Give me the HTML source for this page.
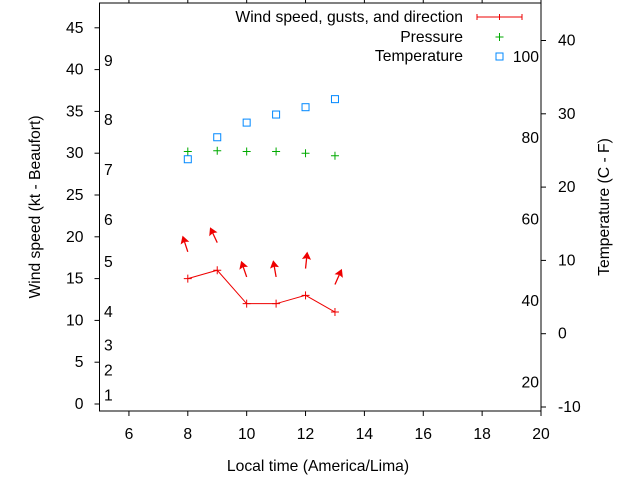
<!DOCTYPE html>
<html><head><meta charset="utf-8"><style>
body{margin:0;background:#fff}
text{font-family:"Liberation Sans",sans-serif;font-size:15.7px;fill:#000}
</style></head><body>
<svg id="c" width="640" height="480" xmlns="http://www.w3.org/2000/svg"></svg>
<script>
const hours=[8,9,10,11,12,13];
const wind=[15,16,12,12,13,11];
const gust=[18.2,19.3,15.2,15.2,16.2,14.3];
const dirDeg=[-18,-25,-19,-10,6,24];
const pressure=[30.2,30.3,30.2,30.2,30.0,29.7];
const temperature=[23.8,26.8,28.8,29.9,30.9,32.0];
const xTicks=[6,8,10,12,14,16,18,20];
const yTicks=[0,5,10,15,20,25,30,35,40,45];
const y2Ticks=[-10,0,10,20,30,40];
const beaufortLabels=["1","2","3","4","5","6","7","8","9"];
const beaufortKt=[1,4,7,11,17,22,28,34,41];
const fLabels=["20","40","60","80","100"];
const fValues=[20,40,60,80,100];

const L=99.5,R=541,T=3,B=411;
const X=v=>L+(v-5)*(R-L)/15;
const Y=v=>404-v*8.36;
const Y2=v=>333.7-v*7.33;
const svg=document.getElementById('c');
const NS='http://www.w3.org/2000/svg';
function mk(tag,attrs,parent,name,txt){const e=document.createElementNS(NS,tag);for(const k in attrs)e.setAttribute(k,attrs[k]);


if(txt!==undefined)e.textContent=txt;(parent||svg).appendChild(e);return e;}

mk('rect',{x:L,y:T,width:R-L,height:B-T,fill:'none',stroke:'#000','stroke-width':1},svg,'plot-frame');
xTicks.forEach(t=>{const x=X(t);
mk('line',{x1:x,y1:B,x2:x,y2:B+5,stroke:'#000'},svg,'x-tick');
mk('line',{x1:x,y1:T,x2:x,y2:T-5,stroke:'#000'},svg,'x-tick-top');
mk('text',{x:x,y:B+28,'text-anchor':'middle'},svg,'x-tick-label',t);});
yTicks.forEach(t=>{const y=Y(t);
mk('line',{x1:L-5,y1:y,x2:L,y2:y,stroke:'#000'},svg,'y-tick');
mk('text',{x:L-16,y:y+5,'text-anchor':'end'},svg,'y-tick-label',t);});
y2Ticks.forEach(t=>{const y=Y2(t);
mk('line',{x1:R,y1:y,x2:R+5,y2:y,stroke:'#000'},svg,'y2-tick');
mk('text',{x:558,y:y+5},svg,'y2-tick-label',t);});
beaufortKt.forEach((k,i)=>mk('text',{x:104,y:Y(k)+5},svg,'beaufort-label',beaufortLabels[i]));
fValues.forEach((f,i)=>mk('text',{x:539,y:Y2((f-32)*5/9)+5,'text-anchor':'end'},svg,'fahrenheit-label',fLabels[i]));

mk('text',{x:318,y:471,'text-anchor':'middle'},svg,'x-axis-title','Local time (America/Lima)');
mk('text',{x:40,y:207,'text-anchor':'middle',transform:'rotate(-90 40 207)'},svg,'y-axis-title','Wind speed (kt - Beaufort)');
mk('text',{x:609,y:207,'text-anchor':'middle',transform:'rotate(-90 609 207)'},svg,'y2-axis-title','Temperature (C - F)');

function plus(x,y,c,name){mk('path',{d:`M${x-4} ${y}H${x+4}M${x} ${y-4}V${y+4}`,stroke:c,'stroke-width':1},svg,name);}
mk('polyline',{points:hours.map((h,i)=>X(h)+','+Y(wind[i])).join(' '),fill:'none',stroke:'#e00','stroke-width':1},svg,'wind-line');
hours.forEach((h,i)=>plus(X(h),Y(wind[i]),'#e00','wind-point'));
hours.forEach((h,i)=>{const x=X(h),y=Y(gust[i]),a=dirDeg[i]*Math.PI/180,len=14;
const hx=x+Math.sin(a)*len,hy=y-Math.cos(a)*len;
mk('line',{x1:x,y1:y,x2:hx,y2:hy,stroke:'#e00','stroke-width':1.3},svg,'gust-arrow');
const ux=Math.sin(a),uy=-Math.cos(a),px=-uy,py=ux;
mk('polygon',{points:`${hx+ux*2},${hy+uy*2} ${hx-ux*4+px*3.5},${hy-uy*4+py*3.5} ${hx-ux*3},${hy-uy*3} ${hx-ux*4-px*3.5},${hy-uy*4-py*3.5}`,fill:'#e00',stroke:'#e00','stroke-width':1},svg,'gust-arrow-head');});
hours.forEach((h,i)=>plus(X(h),Y(pressure[i]),'#0a0','pressure-point'));
hours.forEach((h,i)=>mk('rect',{x:X(h)-3.5,y:Y2(temperature[i])-3.5,width:7,height:7,fill:'none',stroke:'#08f','stroke-width':1},svg,'temperature-point'));

mk('text',{x:463,y:22,'text-anchor':'end'},svg,'legend-wind','Wind speed, gusts, and direction');
mk('path',{d:'M477 17H522M477 14V20M522 14V20M499.5 14V20',stroke:'#e00'},svg,'legend-wind-sample');
mk('text',{x:463,y:42,'text-anchor':'end'},svg,'legend-pressure','Pressure');
plus(499.5,37,'#0a0','legend-pressure-sample');
mk('text',{x:463,y:61,'text-anchor':'end'},svg,'legend-temperature','Temperature');
mk('rect',{x:496,y:53,width:7,height:7,fill:'none',stroke:'#08f'},svg,'legend-temperature-sample');
</script>
</body></html>
